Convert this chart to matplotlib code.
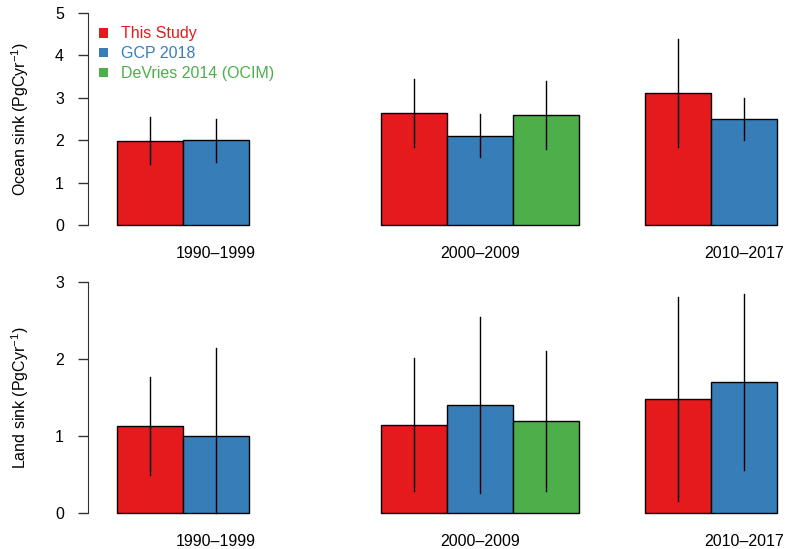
import matplotlib
matplotlib.use("Agg")
import matplotlib.pyplot as plt
from matplotlib.patches import Patch
import numpy as np

plt.rcParams['font.family'] = ['Liberation Sans', 'DejaVu Sans']
plt.rcParams['mathtext.default'] = 'regular'

periods = ['1990\u20131999', '2000\u20132009', '2010\u20132017']
sources = ['This Study', 'GCP 2018', 'DeVries 2014 (OCIM)']
colors = ['#E41A1C', '#377EB8', '#4DAF4A']

# ocean sink, PgC/yr (nan = no estimate for that period)
ocean_mean = [[1.98, 2.64, 3.11],
              [2.00, 2.10, 2.50],
              [np.nan, 2.60, np.nan]]
ocean_lo = [[1.43, 1.83, 1.83],
            [1.49, 1.60, 2.00],
            [np.nan, 1.80, np.nan]]
ocean_hi = [[2.54, 3.44, 4.39],
            [2.51, 2.61, 3.00],
            [np.nan, 3.40, np.nan]]

# land sink, PgC/yr
land_mean = [[1.13, 1.15, 1.48],
             [1.00, 1.40, 1.70],
             [np.nan, 1.20, np.nan]]
land_lo = [[0.50, 0.29, 0.16],
           [0.00, 0.26, 0.56],
           [np.nan, 0.29, np.nan]]
land_hi = [[1.76, 2.01, 2.80],
           [2.14, 2.54, 2.84],
           [np.nan, 2.10, np.nan]]

W, H = 786, 549
fig = plt.figure(figsize=(W / 100, H / 100), dpi=100)

x_left, x_right = 0.56, 11.136


def make_axes(top_px, bottom_px):
    return fig.add_axes([88 / W, 1 - bottom_px / H, 1 - 88 / W, (bottom_px - top_px) / H])


def draw_panel(ax, mean, lo, hi, ymax, ylabel, xpad):
    for j in range(len(sources)):
        for i in range(len(periods)):
            if np.isnan(mean[j][i]):
                continue
            x0 = 1 + 4 * i + j
            ax.bar(x0, mean[j][i], width=1, align='edge', color=colors[j],
                   edgecolor='black', linewidth=1)
            ax.plot([x0 + 0.5, x0 + 0.5], [lo[j][i], hi[j][i]], color='black', lw=1)
    ax.set_xlim(x_left, x_right)
    pad = ymax * 0.04
    ax.set_ylim(-pad, ymax + pad)
    ax.set_yticks(range(0, ymax + 1))
    ax.spines['left'].set_bounds(0, ymax)
    for s in ['top', 'right', 'bottom']:
        ax.spines[s].set_visible(False)
    ax.spines['left'].set_color('#333333')
    ax.tick_params(axis='y', length=7.2, width=1, color='#333333', pad=10, labelsize=11.5)
    ax.set_xticks([2.5 + 4 * i for i in range(len(periods))])
    ax.set_xticklabels(periods)
    ax.tick_params(axis='x', length=0, labelsize=11.5, pad=xpad)
    ax.set_ylabel(ylabel, fontsize=11.5)
    ax.yaxis.set_label_coords(-0.081, 0.5)


ax1 = make_axes(4.5, 233.5)
draw_panel(ax1, ocean_mean, ocean_lo, ocean_hi, 5, 'Ocean sink (PgCyr$^{-1}$)', 9)

ax2 = make_axes(272.4, 522.6)
draw_panel(ax2, land_mean, land_lo, land_hi, 3, 'Land sink (PgCyr$^{-1}$)', 8)

handles = [Patch(facecolor=c, edgecolor='none') for c in colors]
leg = ax1.legend(handles, sources, loc='upper left', bbox_to_anchor=(0.0, 0.953),
                 frameon=False, fontsize=11.5, handlelength=0.55, handleheight=0.55,
                 handletextpad=0.8, labelspacing=0.3, borderaxespad=0.3)
for txt, c in zip(leg.get_texts(), colors):
    txt.set_color(c)

fig.savefig('out.png', dpi=100)
